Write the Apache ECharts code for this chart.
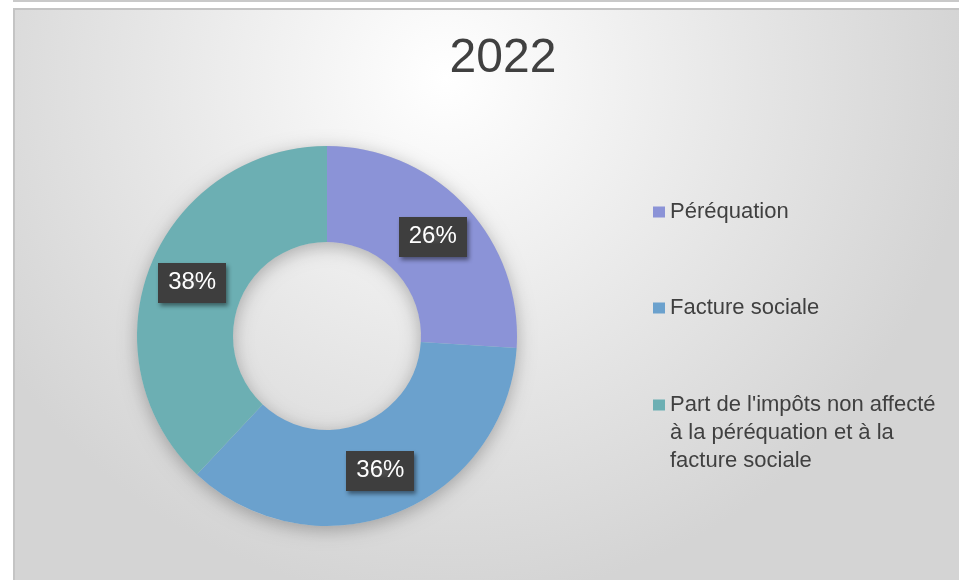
<!DOCTYPE html>
<html>
<head>
<meta charset="utf-8">
<script src="https://cdn.jsdelivr.net/npm/echarts@6/dist/echarts.min.js"></script>
<style>
html,body{margin:0;padding:0;background:#ffffff;}
#chart{width:959px;height:580px;}
</style>
</head>
<body>
<div id="chart"></div>
<script>
const titleText = '2022';
const categories = ['Péréquation', 'Facture sociale', "Part de l'impôts non affecté à la péréquation et à la facture sociale"];
const values = [26, 36, 38];
const legendLabels = ['Péréquation', 'Facture sociale', "Part de l'impôts non affecté\nà la péréquation et à la\nfacture sociale"];
const colors = ['#8b93d7', '#6ba1cd', '#6cafb3'];

const chart = echarts.init(document.getElementById('chart'), null, {renderer: 'canvas'});
const total = values.reduce((a, b) => a + b, 0);

// dotted dark pattern for label boxes
const pat = document.createElement('canvas');
pat.width = 8; pat.height = 8;
const pctx = pat.getContext('2d');
pctx.fillStyle = '#3e3e3e'; pctx.fillRect(0, 0, 8, 8);
pctx.fillStyle = '#4c4c4c'; pctx.fillRect(3, 3, 2, 2);

const LH = 28;
const firstLineCenters = [212, 308, 405];
const legends = categories.map((name, i) => {
  const lines = legendLabels[i].split('\n').length;
  const h = lines * LH;
  let icon = 'rect', itemHeight = 11, top;
  if (lines > 1) {
    // square aligned with first line; tiny invisible points set the icon box to 12 x h
    icon = 'path://M0,0h0.01v0.01h-0.01z M0,' + (LH / 2 - 5.5) + 'h12v11h-12z M11.99,' + (h - 0.01) + 'h0.01v0.01h-0.01z';
    itemHeight = h;
    top = firstLineCenters[i] - LH / 2;
  } else {
    top = firstLineCenters[i] - LH / 2;
  }
  return {
    data: [{name: name, icon: icon}],
    left: 653,
    top: top,
    padding: 0,
    itemWidth: 12,
    itemHeight: itemHeight,
    symbolKeepAspect: false,
    selectedMode: false,
    formatter: () => legendLabels[i],
    textStyle: {
      fontFamily: 'Liberation Sans, Arial, sans-serif',
      fontSize: 22,
      color: '#404040',
      lineHeight: LH
    }
  };
});

chart.setOption({
  animation: false,
  backgroundColor: 'transparent',
  color: colors,
  graphic: [
    {type: 'rect', z: -10, silent: true, shape: {x: 13, y: 0, width: 946, height: 2}, style: {fill: '#c9c9c9'}},
    {type: 'rect', z: -10, silent: true, shape: {x: 14, y: 9, width: 960, height: 580},
      style: {
        fill: {type: 'radial', x: 0.45, y: 0.12, r: 0.9,
          colorStops: [{offset: 0, color: '#ffffff'}, {offset: 0.55, color: '#e7e7e7'}, {offset: 1, color: '#d4d4d4'}]},
        stroke: '#c4c4c4', lineWidth: 2
      }}
  ],
  title: {
    text: titleText,
    left: 498,
    top: 30,
    textAlign: 'center',
    textStyle: {fontFamily: 'Liberation Sans, Arial, sans-serif', fontSize: 48, fontWeight: 'normal', color: '#404040'}
  },
  legend: legends,
  series: [
    {
      type: 'pie',
      silent: true,
      z: 1,
      center: [327, 336],
      radius: [94, 190],
      startAngle: 90,
      label: {show: false},
      labelLine: {show: false},
      itemStyle: {color: '#cfcfcf', shadowBlur: 18, shadowColor: 'rgba(0,0,0,0.28)', shadowOffsetY: 4},
      data: [{value: total, name: '__shadow'}]
    },
    {
      type: 'pie',
      z: 2,
      center: [327, 336],
      radius: [94, 190],
      startAngle: 90,
      clockwise: true,
      avoidLabelOverlap: false,
      label: {
        show: true,
        position: 'inside',
        formatter: p => Math.round(p.value / total * 100) + '%',
        fontFamily: 'Liberation Sans, Arial, sans-serif',
        fontSize: 24,
        color: '#ffffff',
        backgroundColor: {image: pat, repeat: 'repeat'},
        padding: [8, 10, 8, 10],
        shadowColor: 'rgba(0,0,0,0.45)',
        shadowBlur: 4,
        shadowOffsetX: 2,
        shadowOffsetY: 3
      },
      labelLine: {show: false},
      emphasis: {scale: false},
      data: categories.map((name, i) => ({name: name, value: values[i]}))
    }
  ]
});
</script>
</body>
</html>
